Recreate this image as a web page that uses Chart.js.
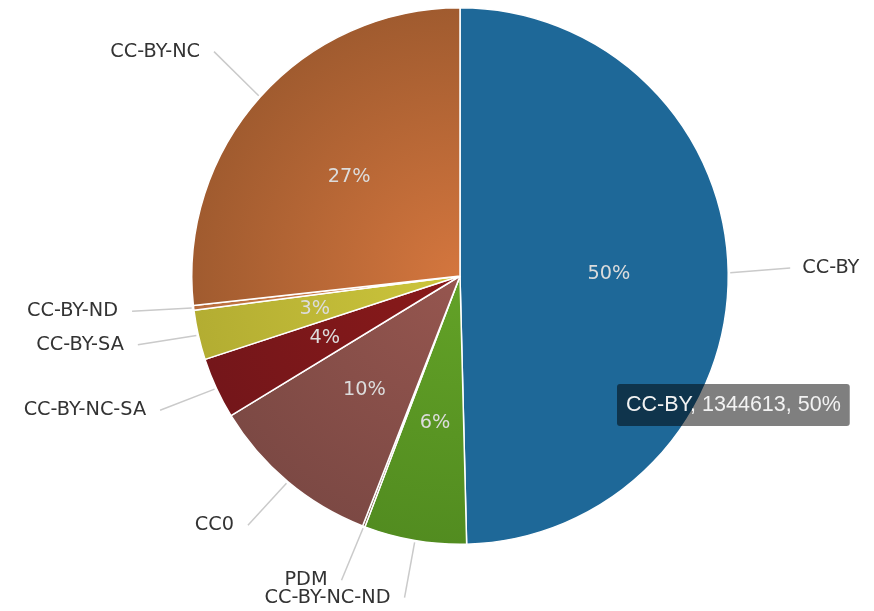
<!DOCTYPE html>
<html lang="en">
<head>
    <meta charset="UTF-8">
    <title>Licenses</title>
    <script src="https://cdn.jsdelivr.net/npm/chart.js"></script>
    <style>
        body { margin: 0; background: #fff; }
    </style>
</head>
<body>
    <canvas id="licenseChart" width="874" height="611"></canvas>

    <script>
        // slices, clockwise from 12 o'clock
        const licenses = ['CC-BY', 'CC-BY-NC-ND', 'PDM', 'CC0', 'CC-BY-NC-SA', 'CC-BY-SA', 'CC-BY-ND', 'CC-BY-NC'];
        const counts = [1344613, 167000, 4000, 281000, 100000, 81000, 8000, 725000];

        // colour near the centre / colour at the rim
        const innerColors = ['#1e6898', '#63a227', '#8a6a50', '#96564f', '#8a1a1a', '#cdc63c', '#dc8a52', '#d4763e'];
        const outerColors = ['#1e6898', '#528c20', '#6f5540', '#7c4944', '#74161a', '#b3ad32', '#b86d3c', '#a05b2f'];

        const total = counts.reduce((a, b) => a + b, 0);
        const pct = v => Math.round(v / total * 100);

        const labelFont = '19.3px "DejaVu Sans", sans-serif';
        const pctFont = '19.3px "DejaVu Sans", sans-serif';

        function sliceFill(ctx) {
            const chart = ctx.chart;
            const area = chart.chartArea;
            const i = ctx.dataIndex;
            if (!area || innerColors[i] === outerColors[i]) return innerColors[i];
            const cx = (area.left + area.right) / 2;
            const cy = (area.top + area.bottom) / 2;
            const r = Math.min(area.width, area.height) / 2;
            const g = chart.ctx.createRadialGradient(cx, cy, 0, cx, cy, r);
            g.addColorStop(0, innerColors[i]);
            g.addColorStop(1, outerColors[i]);
            return g;
        }

        const pieLabels = {
            id: 'pieLabels',
            afterDatasetsDraw(chart) {
                const c = chart.ctx;
                const arcs = chart.getDatasetMeta(0).data;
                arcs.forEach((arc, i) => {
                    const mid = (arc.startAngle + arc.endAngle) / 2;
                    const cos = Math.cos(mid), sin = Math.sin(mid);
                    const r = arc.outerRadius;

                    // leader line, ending a little above the radial point
                    const x1 = arc.x + cos * (r + 2), y1 = arc.y + sin * (r + 2);
                    const x2 = arc.x + cos * (r + 62), y2 = arc.y + sin * (r + 62) - 4;
                    c.save();
                    c.strokeStyle = '#cacaca';
                    c.lineWidth = 1.5;
                    c.beginPath();
                    c.moveTo(x1, y1);
                    c.lineTo(x2, y2);
                    c.stroke();

                    // outer label
                    c.font = labelFont;
                    c.fillStyle = '#333';
                    c.textBaseline = 'middle';
                    if (cos < 0) {
                        c.textAlign = 'right';
                        c.fillText(licenses[i], x2 - 14, y2);
                    } else {
                        c.textAlign = 'left';
                        c.fillText(licenses[i], x2 + 12, y2);
                    }

                    // percentage inside the slice
                    const p = counts[i] / total * 100;
                    if (p >= 1) {
                        c.font = pctFont;
                        c.fillStyle = '#dcdcdc';
                        c.textAlign = 'center';
                        c.fillText(pct(counts[i]) + '%', arc.x + cos * r * 0.555, arc.y + sin * r * 0.555);
                    }
                    c.restore();
                });
            }
        };

        Chart.Tooltip.positioners.atPoint = function (items, eventPosition) {
            return eventPosition;
        };

        const chart = new Chart(document.getElementById('licenseChart').getContext('2d'), {
            type: 'pie',
            data: {
                labels: licenses,
                datasets: [{
                    data: counts,
                    backgroundColor: sliceFill,
                    hoverBackgroundColor: sliceFill,
                    borderColor: '#fff',
                    hoverBorderColor: '#fff',
                    borderWidth: 1.5,
                    hoverOffset: 0
                }]
            },
            options: {
                responsive: false,
                animation: false,
                layout: {
                    padding: { left: 191, top: 7, right: 145, bottom: 66 }
                },
                plugins: {
                    legend: { display: false },
                    tooltip: {
                        position: 'atPoint',
                        xAlign: 'left',
                        yAlign: 'center',
                        caretSize: 0,
                        caretPadding: 0,
                        cornerRadius: 3,
                        backgroundColor: 'rgba(0, 0, 0, 0.5)',
                        bodyColor: '#f2f2f2',
                        bodyFont: { family: '"Liberation Sans", Arial, sans-serif', size: 21.5 },
                        padding: { x: 9, y: 8 },
                        displayColors: false,
                        callbacks: {
                            title: () => '',
                            label: item => `${item.label}, ${item.raw}, ${pct(item.raw)}%`
                        }
                    }
                }
            },
            plugins: [pieLabels]
        });

        // tooltip as it was captured, hovering over CC-BY
        chart.tooltip.setActiveElements([{ datasetIndex: 0, index: 0 }], { x: 617, y: 405 });
        chart.update();
    </script>
</body>
</html>
